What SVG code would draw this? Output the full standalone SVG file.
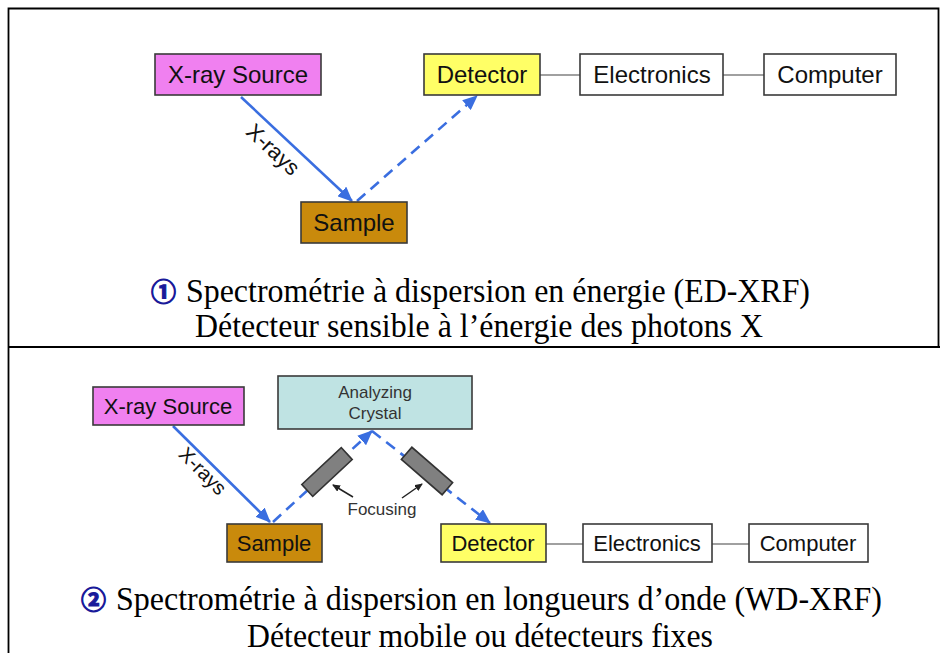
<svg xmlns="http://www.w3.org/2000/svg" width="940" height="653" viewBox="0 0 940 653">
<style>
.box{stroke:#3a3a3a;stroke-width:1.6}
.lbl{font-family:"Liberation Sans",Arial,sans-serif;fill:#111}
.t24{font-size:24px}
.t22{font-size:22px}
.small{font-size:17px;fill:#333}
.ray{stroke:#3a6ee0;stroke-width:2.6;fill:none}
.dash{stroke-dasharray:11 7}
.link{stroke:#808080;stroke-width:1.6}
.cap{font-family:"Liberation Serif","Times New Roman",serif;font-size:33px;fill:#000}
.num{font-family:"Noto Sans CJK JP","DejaVu Sans",sans-serif;font-size:25px;font-weight:bold;fill:#1a1a9a;stroke:#1a1a9a;stroke-width:1.2}
.frame{stroke:#000;stroke-width:1.8;fill:none}
.foc{fill:#808080;stroke:#333;stroke-width:1.6}
</style>
<defs>
<marker id="ah" markerWidth="15" markerHeight="13" refX="14" refY="6.5" orient="auto" markerUnits="userSpaceOnUse">
<path d="M0,0 L15,6.5 L0,13 z" fill="#3a6ee0"/>
</marker>
<marker id="ahk" markerWidth="8" markerHeight="7" refX="7" refY="3.5" orient="auto" markerUnits="userSpaceOnUse">
<path d="M0,0 L8,3.5 L0,7 z" fill="#222"/>
</marker>
</defs>
<rect width="940" height="653" fill="#fff"/>
<g id="frame">
<path class="frame" d="M8.5,653 V8.5 H938.5 V347"/>
<line class="frame" x1="8" y1="347" x2="940" y2="347"/>
</g>
<g id="connectors">
<line class="link" x1="540" y1="75" x2="580" y2="75"/>
<line class="link" x1="723" y1="75" x2="764" y2="75"/>
<line class="ray" x1="241" y1="97" x2="352" y2="201" marker-end="url(#ah)"/>
<line class="ray dash" x1="357" y1="201" x2="477" y2="96" marker-end="url(#ah)"/>
<line class="link" x1="546" y1="544" x2="583" y2="544"/>
<line class="link" x1="712" y1="544" x2="749" y2="544"/>
<line class="ray" x1="173" y1="426" x2="270" y2="522" marker-end="url(#ah)"/>
<line class="ray dash" x1="273" y1="522" x2="372" y2="431" marker-end="url(#ah)"/>
<line class="ray dash" x1="372" y1="431" x2="490" y2="523" marker-end="url(#ah)"/>
<line x1="353" y1="497" x2="333" y2="485" stroke="#222" stroke-width="1.5" marker-end="url(#ahk)"/>
<line x1="402" y1="498" x2="422" y2="484" stroke="#222" stroke-width="1.5" marker-end="url(#ahk)"/>
</g>
<g id="labels">
<text class="lbl t22" transform="translate(268,155) rotate(43)" text-anchor="middle">X-rays</text>
<text class="lbl" font-size="20" transform="translate(198,476) rotate(45)" text-anchor="middle">X-rays</text>
<text class="lbl small" x="382" y="515" text-anchor="middle">Focusing</text>
</g>
<g id="ed-source"><rect class="box" x="155" y="54" width="166" height="41" fill="#f080f0"/><text class="lbl t24" x="238" y="83" text-anchor="middle">X-ray Source</text></g>
<g id="ed-detector"><rect class="box" x="424" y="54" width="116" height="41" fill="#ffff66"/><text class="lbl t24" x="482" y="83" text-anchor="middle">Detector</text></g>
<g id="ed-electronics"><rect class="box" x="580" y="54" width="143" height="41" fill="#fff"/><text class="lbl t24" x="652" y="83" text-anchor="middle">Electronics</text></g>
<g id="ed-computer"><rect class="box" x="764" y="54" width="132" height="41" fill="#fff"/><text class="lbl t24" x="830" y="83" text-anchor="middle">Computer</text></g>
<g id="ed-sample"><rect class="box" x="301" y="202" width="106" height="41" fill="#c98a0c"/><text class="lbl t24" x="354" y="231" text-anchor="middle">Sample</text></g>
<g id="ed-caption">
<text class="num" x="151" y="301">①</text>
<text class="cap" x="186" y="302" textLength="624" lengthAdjust="spacingAndGlyphs">Spectrométrie à dispersion en énergie (ED-XRF)</text>
<text class="cap" x="195" y="337" textLength="568" lengthAdjust="spacingAndGlyphs">Détecteur sensible à l’énergie des photons X</text>
</g>
<g id="wd-source"><rect class="box" x="93" y="387" width="151" height="38" fill="#f080f0"/><text class="lbl t22" x="168" y="414" text-anchor="middle">X-ray Source</text></g>
<g id="wd-crystal"><rect class="box" x="278" y="376" width="194" height="53" fill="#bfe3e3"/><text class="lbl small" x="375" y="398" text-anchor="middle">Analyzing</text><text class="lbl small" x="375" y="419" text-anchor="middle">Crystal</text></g>
<g id="wd-focus-left"><rect class="foc" x="-27" y="-8" width="54" height="16" transform="translate(327,472) rotate(-43)"/></g>
<g id="wd-focus-right"><rect class="foc" x="-27" y="-8" width="54" height="16" transform="translate(427,471) rotate(41)"/></g>
<g id="wd-sample"><rect class="box" x="227" y="524" width="95" height="38" fill="#c98a0c"/><text class="lbl t22" x="274" y="551" text-anchor="middle">Sample</text></g>
<g id="wd-detector"><rect class="box" x="441" y="524" width="105" height="38" fill="#ffff66"/><text class="lbl t22" x="493" y="551" text-anchor="middle">Detector</text></g>
<g id="wd-electronics"><rect class="box" x="583" y="524" width="129" height="38" fill="#fff"/><text class="lbl t22" x="647" y="551" text-anchor="middle">Electronics</text></g>
<g id="wd-computer"><rect class="box" x="749" y="524" width="119" height="38" fill="#fff"/><text class="lbl t22" x="808" y="551" text-anchor="middle">Computer</text></g>
<g id="wd-caption">
<text class="num" x="81" y="609">②</text>
<text class="cap" x="116" y="610" textLength="766" lengthAdjust="spacingAndGlyphs">Spectrométrie à dispersion en longueurs d’onde (WD-XRF)</text>
<text class="cap" x="247" y="647" textLength="466" lengthAdjust="spacingAndGlyphs">Détecteur mobile ou détecteurs fixes</text>
</g>
</svg>
